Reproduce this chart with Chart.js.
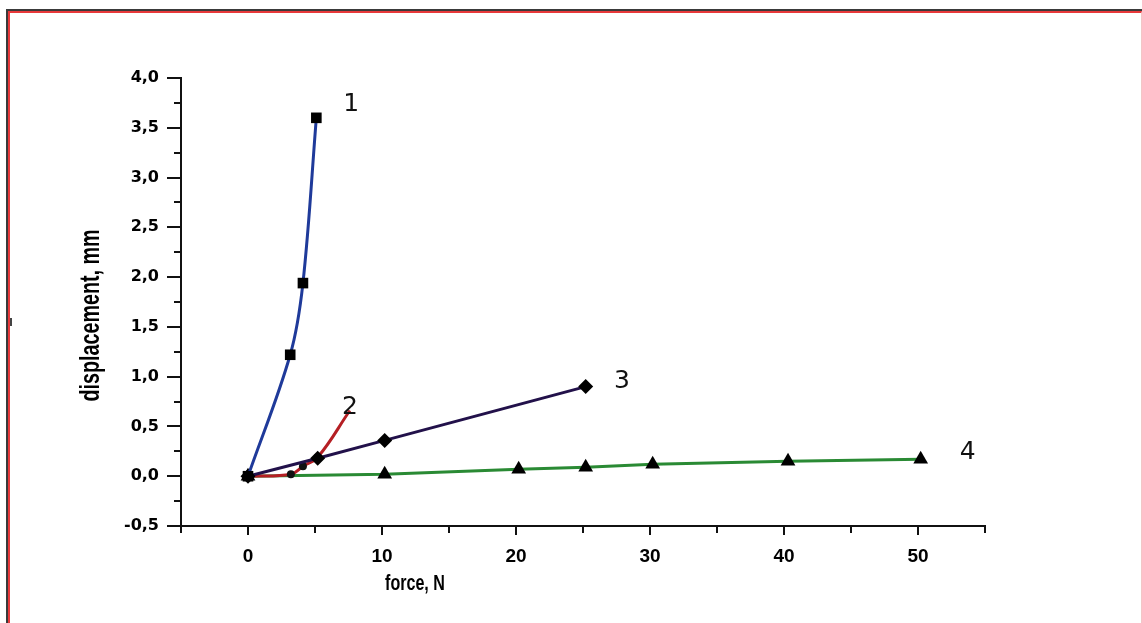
<!DOCTYPE html>
<html>
<head>
<meta charset="utf-8">
<title>displacement vs force</title>
<script src="https://cdn.jsdelivr.net/npm/chart.js@4.4.1/dist/chart.umd.min.js"></script>
<style>
  html, body { margin: 0; padding: 0; background: #fff; }
  body { width: 1142px; height: 623px; position: relative; overflow: hidden; }
  .frame-dark { position: absolute; left: 6px; top: 9px; width: 1200px; height: 700px;
                border-left: 2px solid #3a3a3a; border-top: 2px solid #3a3a3a; }
  .frame-red  { position: absolute; left: 8px; top: 11px; width: 1131px; height: 700px;
                border-left: 2px solid #e8393b; border-top: 2px solid #e8393b; border-right: 1px solid #f2c6c6; }
  .notch { position: absolute; left: 10px; top: 318px; width: 2px; height: 8px; background: #444; }
  #chart { position: absolute; left: 0; top: 0; }
</style>
</head>
<body>
<div class="frame-dark"></div>
<div class="frame-red"></div>
<div class="notch"></div>
<canvas id="chart" width="1142" height="623"></canvas>
<script>
// Force vs displacement, four samples

// ── Data ──────────────────────────────────────────────────────────────────────

const FORCE_1 = [0, 3.15, 4.1, 5.1];
const DISP_1  = [0, 1.22, 1.94, 3.6];

const FORCE_2 = [0, 3.2, 4.1, 5.2, 7.6];
const DISP_2  = [0, 0.02, 0.1, 0.19, 0.66];

const FORCE_3 = [0, 5.2, 10.2, 25.2];
const DISP_3  = [0, 0.18, 0.36, 0.9];

const FORCE_4 = [0, 10.2, 20.2, 25.2, 30.2, 40.3, 50.2];
const DISP_4  = [0, 0.02, 0.07, 0.09, 0.12, 0.15, 0.17];

const X_TICKS = [0, 10, 20, 30, 40, 50];
const X_MINOR = [-5, 5, 15, 25, 35, 45, 55];
const Y_TICKS = [-0.5, 0, 0.5, 1.0, 1.5, 2.0, 2.5, 3.0, 3.5, 4.0];
const Y_MINOR = [-0.25, 0.25, 0.75, 1.25, 1.75, 2.25, 2.75, 3.25, 3.75];

const CURVE_NAMES = ['1', '2', '3', '4'];
const NAME_X = [7.7, 7.6, 27.9, 53.7];
const NAME_Y = [3.73, 0.69, 0.95, 0.24];

const X_TITLE = 'force, N';
const Y_TITLE = 'displacement, mm';

const pairs = (xs, ys) => xs.map((x, i) => ({ x, y: ys[i] }));

// ── Extra drawing: minor ticks, curve numbers, axis titles ────────────────────

const annotate = {
  id: 'annotate',
  afterDraw(chart) {
    const { ctx, chartArea, scales: { x, y } } = chart;
    ctx.save();

    // minor ticks
    ctx.strokeStyle = '#111';
    ctx.lineWidth = 2;
    Y_MINOR.forEach((v) => {
      const py = Math.round(y.getPixelForValue(v));
      ctx.beginPath();
      ctx.moveTo(chartArea.left, py);
      ctx.lineTo(chartArea.left - 7, py);
      ctx.stroke();
    });
    X_MINOR.forEach((v) => {
      const px = Math.round(x.getPixelForValue(v));
      ctx.beginPath();
      ctx.moveTo(px, chartArea.bottom);
      ctx.lineTo(px, chartArea.bottom + 7);
      ctx.stroke();
    });

    // curve numbers
    ctx.fillStyle = '#111';
    ctx.font = '25px "DejaVu Sans"';
    ctx.textAlign = 'center';
    ctx.textBaseline = 'middle';
    CURVE_NAMES.forEach((name, i) => {
      ctx.fillText(name, x.getPixelForValue(NAME_X[i]), y.getPixelForValue(NAME_Y[i]));
    });

    // axis titles (narrow bold)
    ctx.fillStyle = '#000';
    ctx.save();
    ctx.translate(chartArea.left + chartArea.width * 0.291, chartArea.bottom + 58);
    ctx.scale(0.73, 1);
    ctx.font = 'bold 22px "Liberation Sans"';
    ctx.fillText(X_TITLE, 0, 0);
    ctx.restore();

    ctx.save();
    ctx.translate(chartArea.left - 89, chartArea.top + chartArea.height * 0.53);
    ctx.rotate(-Math.PI / 2);
    ctx.scale(0.73, 1);
    ctx.font = 'bold 27px "Liberation Sans"';
    ctx.fillText(Y_TITLE, 0, 0);
    ctx.restore();

    ctx.restore();
  },
};

// ── Chart ─────────────────────────────────────────────────────────────────────

new Chart(document.getElementById('chart'), {
  type: 'line',
  data: {
    datasets: [
      {
        data: pairs(FORCE_1, DISP_1),
        borderColor: '#1f3a9a',
        borderWidth: 3,
        tension: 0.35,
        pointStyle: 'rect',
        pointRadius: 7.5,
        pointBackgroundColor: '#000',
        pointBorderWidth: 0,
        order: 1,
      },
      {
        data: pairs(FORCE_2, DISP_2),
        borderColor: '#b51f24',
        borderWidth: 3,
        tension: 0.4,
        pointStyle: 'circle',
        pointRadius: [4, 4, 4, 4, 0],
        pointBackgroundColor: '#111',
        pointBorderWidth: 0,
        order: 3,
      },
      {
        data: pairs(FORCE_3, DISP_3),
        borderColor: '#22114a',
        borderWidth: 3,
        tension: 0,
        pointStyle: 'rectRot',
        pointRadius: 7.5,
        pointBackgroundColor: '#000',
        pointBorderWidth: 0,
        order: 2,
      },
      {
        data: pairs(FORCE_4, DISP_4),
        borderColor: '#2a8a34',
        borderWidth: 3,
        tension: 0,
        pointStyle: 'triangle',
        pointRadius: 8.5,
        pointBackgroundColor: '#000',
        pointBorderWidth: 0,
        order: 4,
      },
    ],
  },
  options: {
    responsive: false,
    animation: false,
    events: [],
    layout: { padding: { top: 78, right: 157, left: 0, bottom: 0 } },
    plugins: {
      legend: { display: false },
      tooltip: { enabled: false },
    },
    elements: { line: { fill: false } },
    scales: {
      x: {
        type: 'linear',
        min: -5,
        max: 55,
        afterFit: (scale) => { scale.height = 97; },
        afterBuildTicks: (scale) => { scale.ticks = X_TICKS.map((value) => ({ value })); },
        border: { display: true, color: '#111', width: 2 },
        grid: { drawOnChartArea: false, drawTicks: true, tickLength: 9, color: '#111', lineWidth: 2 },
        ticks: {
          color: '#000',
          padding: 10,
          maxRotation: 0,
          font: { family: '"Liberation Sans Narrow", "Liberation Sans"', weight: 'bold', size: 19 },
        },
      },
      y: {
        type: 'linear',
        min: -0.5,
        max: 4.0,
        afterFit: (scale) => { scale.width = 181; },
        afterBuildTicks: (scale) => { scale.ticks = Y_TICKS.map((value) => ({ value })); },
        border: { display: true, color: '#111', width: 2 },
        grid: { drawOnChartArea: false, drawTicks: true, tickLength: 14, color: '#111', lineWidth: 2 },
        ticks: {
          color: '#000',
          padding: 8,
          font: { family: '"DejaVu Sans"', weight: 'bold', size: 16 },
          callback: (v) => Number(v).toFixed(1).replace('.', ','),
        },
      },
    },
  },
  plugins: [annotate],
});
</script>
</body>
</html>
